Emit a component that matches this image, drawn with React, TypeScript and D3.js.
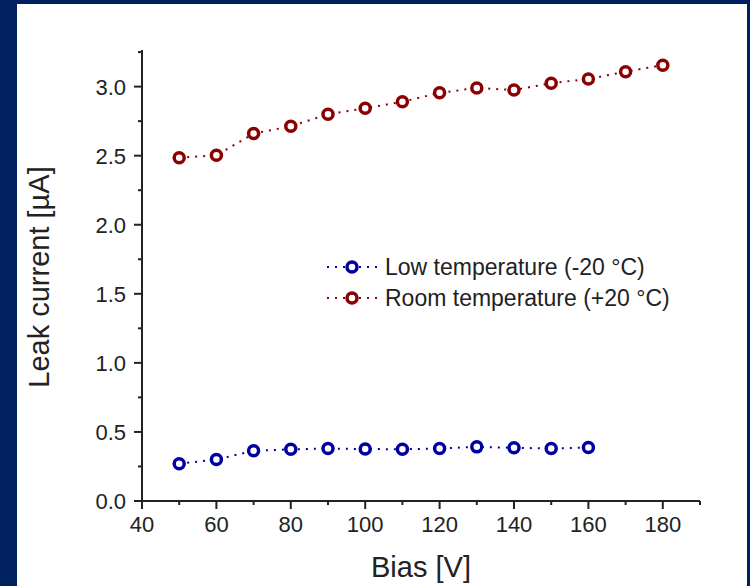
import React from "react";
import * as d3 from "d3";

// Bias voltage steps [V]
const biasLow = [50, 60, 70, 80, 90, 100, 110, 120, 130, 140, 150, 160];
const biasRoom = [50, 60, 70, 80, 90, 100, 110, 120, 130, 140, 150, 160, 170, 180];
// Leak current [µA]
const leakLow = [0.27, 0.3, 0.364, 0.374, 0.38, 0.376, 0.375, 0.38, 0.392, 0.385, 0.38, 0.387];
const leakRoom = [2.485, 2.503, 2.66, 2.713, 2.8, 2.843, 2.89, 2.955, 2.99, 2.975, 3.025, 3.055, 3.108, 3.155];

const xMajorTicks = [40, 60, 80, 100, 120, 140, 160, 180];
const xMinorTicks = [50, 70, 90, 110, 130, 150, 170, 190];
const yMajorTicks = [0, 0.5, 1.0, 1.5, 2.0, 2.5, 3.0];
const yMinorTicks = [0.25, 0.75, 1.25, 1.75, 2.25, 2.75, 3.25];

const legendLabels = ["Low temperature (-20 \u00B0C)", "Room temperature (+20 \u00B0C)"];

const BLUE = "#0000a0";
const RED = "#8b0000";
const AXIS = "#222";
const FONT = "'Liberation Sans', Arial, sans-serif";

export default function App() {
  const W = 750;
  const H = 586;
  const x = d3.scaleLinear().domain([40, 190]).range([142, 700]);
  const y = d3.scaleLinear().domain([0, 3.265]).range([501, 50]);

  const line = d3
    .line<[number, number]>()
    .x((d) => x(d[0]))
    .y((d) => y(d[1]));

  const series = [
    { xs: biasLow, ys: leakLow, color: BLUE },
    { xs: biasRoom, ys: leakRoom, color: RED },
  ];

  const legendX = 327;
  const legendY = [267, 298];

  return (
    <svg
      width={W}
      height={H}
      style={{ position: "absolute", left: 0, top: 0 }}
      fontFamily={FONT}
    >
      <rect x={0} y={0} width={W} height={H} fill="#002060" />
      <rect x={17} y={4} width={730} height={H - 4} fill="#ffffff" />

      {/* axes */}
      <line x1={x(40)} x2={x(40)} y1={y(3.265)} y2={y(0) + 1} stroke={AXIS} strokeWidth={2} />
      <line x1={x(40) - 1} x2={x(190)} y1={y(0)} y2={y(0)} stroke={AXIS} strokeWidth={2} />

      {xMajorTicks.map((t) => (
        <g key={"xM" + t}>
          <line x1={x(t)} x2={x(t)} y1={y(0)} y2={y(0) + 8} stroke={AXIS} strokeWidth={2} />
          <text x={x(t)} y={532} textAnchor="middle" fontSize={22} fill="#222">
            {t}
          </text>
        </g>
      ))}
      {xMinorTicks.map((t) => (
        <line key={"xm" + t} x1={x(t)} x2={x(t)} y1={y(0)} y2={y(0) + 4} stroke={AXIS} strokeWidth={2} />
      ))}
      {yMajorTicks.map((t) => (
        <g key={"yM" + t}>
          <line x1={x(40) - 8} x2={x(40)} y1={y(t)} y2={y(t)} stroke={AXIS} strokeWidth={2} />
          <text x={126} y={y(t) + 8} textAnchor="end" fontSize={22} fill="#222">
            {t.toFixed(1)}
          </text>
        </g>
      ))}
      {yMinorTicks.map((t) => (
        <line key={"ym" + t} x1={x(40) - 4} x2={x(40)} y1={y(t)} y2={y(t)} stroke={AXIS} strokeWidth={2} />
      ))}

      {/* axis titles */}
      <text x={421} y={577} textAnchor="middle" fontSize={29} fill="#222">
        Bias [V]
      </text>
      <text
        transform={`translate(49, 277) rotate(-90)`}
        textAnchor="middle"
        fontSize={29}
        fill="#222"
      >
        Leak current [µA]
      </text>

      {/* data */}
      {series.map((s, i) => {
        const pts = s.xs.map((v, j) => [v, s.ys[j]] as [number, number]);
        return (
          <g key={"s" + i}>
            <path d={line(pts) || ""} fill="none" stroke={s.color} strokeWidth={2} strokeDasharray="2,6" />
            {pts.map((p, j) => (
              <circle key={j} cx={x(p[0])} cy={y(p[1])} r={5} fill="#fff" stroke={s.color} strokeWidth={3.5} />
            ))}
          </g>
        );
      })}

      {/* legend */}
      {series.map((s, i) => (
        <g key={"lg" + i}>
          <line
            x1={legendX}
            x2={legendX + 52}
            y1={legendY[i]}
            y2={legendY[i]}
            stroke={s.color}
            strokeWidth={2}
            strokeDasharray="2,6"
          />
          <circle cx={legendX + 25} cy={legendY[i]} r={5} fill="#fff" stroke={s.color} strokeWidth={3.5} />
          <text x={385} y={legendY[i] + 8} fontSize={23} fill="#222">
            {legendLabels[i]}
          </text>
        </g>
      ))}
    </svg>
  );
}
